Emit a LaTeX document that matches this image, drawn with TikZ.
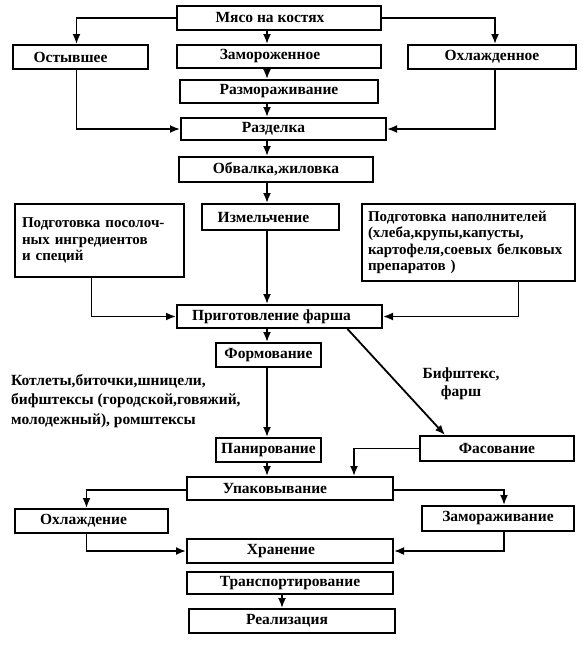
\documentclass[tikz,border=0pt]{standalone}
\usepackage{fontspec}
\setmainfont{Liberation Serif}
\usetikzlibrary{arrows.meta}
\begin{document}
\begin{tikzpicture}[x=1pt,y=-1pt,
  box/.style={draw, line width=2pt, inner sep=0pt, font=\fontsize{15.5}{17}\selectfont\bfseries},
  multibox/.style={box, align=left, font=\fontsize{15}{16.5}\selectfont\bfseries},
  txt/.style={inner sep=0pt, font=\fontsize{15.5}{19.5}\selectfont\bfseries},
  arr/.style={line width=1.8pt, -{Latex[length=10pt,width=8pt]}}]
\useasboundingbox (0,0) rectangle (585,648);
\coordinate (cx) at (267,0);
% boxes
\node[box, minimum width=204, minimum height=24] (meat) at (279,18) {Мясо на костях\hspace*{18pt}};
\node[box, minimum width=204, minimum height=23] (zam) at (279,56.5) {Замороженное\hspace*{18pt}};
\node[box, minimum width=198, minimum height=23] (razm) at (279,91.5) {Размораживание};
\node[box, minimum width=205, minimum height=22] (razd) at (283.5,129) {Разделка\hspace*{20pt}};
\node[box, minimum width=194, minimum height=25] (obv) at (276,169.5) {Обвалка,жиловка};
\node[box, minimum width=135, minimum height=24] (ost) at (80.5,57) {Остывшее\hspace*{20pt}};
\node[box, minimum width=168, minimum height=24] (ohl) at (492,57) {Охлажденное};
\node[multibox, minimum width=169, minimum height=73, text width=155] (pos) at (99.5,240.5)
  {Подготовка посолоч-\\ных ингредиентов\\и специй};
\node[box, minimum width=137, minimum height=26] (izm) at (270.5,217) {Измельчение\hspace*{14pt}};
\node[multibox, minimum width=213, minimum height=77, text width=201] (nap) at (468.5,242.5)
  {Подготовка наполнителей\\(хлеба,крупы,капусты,\\\mbox{картофеля,соевых белковых}\\препаратов )};
\node[box, minimum width=205, minimum height=23] (prig) at (279.5,316.5) {Приготовление фарша\hspace*{16pt}};
\node[box, minimum width=105, minimum height=24] (form) at (268.5,355) {Формование};
\node[box, minimum width=105, minimum height=24] (pan) at (268.5,450) {Панирование};
\node[box, minimum width=154, minimum height=25] (fas) at (497,448.5) {Фасование};
\node[box, minimum width=206, minimum height=23] (upak) at (290,488.5) {Упаковывание\hspace*{30pt}};
\node[box, minimum width=153, minimum height=24] (ohlazh) at (91.5,521) {Охлаждение\hspace*{16pt}};
\node[box, minimum width=152, minimum height=25] (zamr) at (498,518.5) {Замораживание};
\node[box, minimum width=206, minimum height=24] (hran) at (290,551) {Хранение\hspace*{18pt}};
\node[box, minimum width=206, minimum height=22] (trans) at (290,583) {Транспортирование};
\node[box, minimum width=206, minimum height=24] (real) at (292,621) {Реализация\hspace*{10pt}};
% free texts
\node[txt, align=left, anchor=north west] (kotl) at (11,374)
  {Котлеты,биточки,шницели,\\бифштексы (городской,говяжий,\\молодежный), ромштексы};
\node[txt, align=center, font=\fontsize{15.5}{18}\selectfont\bfseries] (bif) at (461,384) {Бифштекс,\\фарш};
% connectors
\draw[arr] (meat.west) -| ([xshift=-4pt]ost.north);
\draw[arr] (meat.east) -| ([xshift=3pt]ohl.north);
\draw[arr] (meat.south -| cx) -- (zam.north -| cx);
\draw[arr] (zam.south -| cx) -- (razm.north -| cx);
\draw[arr] (razm.south -| cx) -- (razd.north -| cx);
\draw[arr] ([xshift=-4pt]ost.south) |- (razd.west);
\draw[arr] ([xshift=3pt]ohl.south) |- (razd.east);
\draw[arr] (razd.south -| cx) -- (obv.north -| cx);
\draw[arr] (obv.south -| cx) -- (izm.north -| cx);
\draw[arr] (izm.south -| cx) -- (prig.north -| cx);
\draw[arr] ([xshift=-8pt]pos.south) |- (prig.west);
\draw[arr] ([xshift=50pt]nap.south) |- (prig.east);
\draw[arr] (prig.south -| cx) -- (form.north -| cx);
\draw[arr] ([xshift=68pt]prig.south) -- ([xshift=-52pt]fas.north);
\draw[arr] (form.south -| cx) -- (pan.north -| cx);
\draw[arr] (pan.south -| cx) -- (upak.north -| cx);
\draw[arr] (fas.west) -| ([xshift=64pt]upak.north);
\draw[arr] ([yshift=-1.5pt]upak.west) -| ([xshift=-5pt]ohlazh.north);
\draw[arr] ([yshift=-1.5pt]upak.east) -| ([xshift=6pt]zamr.north);
\draw[arr] ([xshift=-5pt]ohlazh.south) |- (hran.west);
\draw[arr] ([xshift=6pt]zamr.south) |- (hran.east);
\draw[arr] ([xshift=-8pt]trans.south) -- ([xshift=-10pt]real.north);
\end{tikzpicture}
\end{document}
